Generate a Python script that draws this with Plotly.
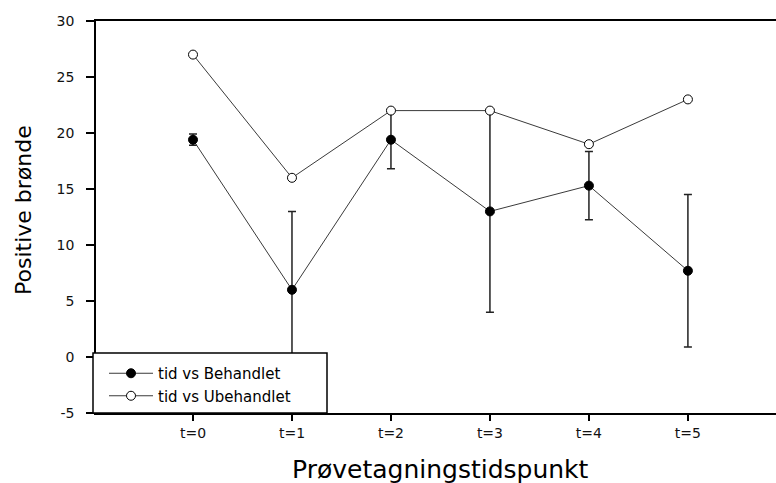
import plotly.graph_objects as go

categories = ["t=0", "t=1", "t=2", "t=3", "t=4", "t=5"]
x_pos = [0, 1, 2, 3, 4, 5]
behandlet = [19.4, 6.0, 19.4, 13.0, 15.3, 7.7]
behandlet_err = [0.5, 7.0, 2.6, 9.0, 3.05, 6.8]
ubehandlet = [27, 16, 22, 22, 19, 23]
y_ticks = [-5, 0, 5, 10, 15, 20, 25, 30]
y_ticktext = ["-5", "0", "5", "10", "15", "20", "25", "30"]

FONT = "DejaVu Sans"
W, H = 776, 483
ML, MR, MT, MB = 96, 0, 21, 70
PW, PH = W - ML - MR, H - MT - MB

def px_x(p):
    return (p - ML) / PW

def px_y(p):
    return (H - MB - p) / PH

fig = go.Figure()
fig.add_trace(go.Scatter(
    x=x_pos, y=behandlet, mode="lines+markers", name="tid vs Behandlet",
    line=dict(color="#3a3a3a", width=1),
    marker=dict(symbol="circle", size=9, color="black", line=dict(color="black", width=1)),
    error_y=dict(type="data", array=behandlet_err, visible=True, color="#222222",
                 thickness=1.5, width=4),
))
fig.add_trace(go.Scatter(
    x=x_pos, y=ubehandlet, mode="lines+markers", name="tid vs Ubehandlet",
    line=dict(color="#3a3a3a", width=1),
    marker=dict(symbol="circle", size=9, color="white", line=dict(color="black", width=1)),
))

fig.update_layout(
    width=W, height=H,
    margin=dict(l=ML, r=MR, t=MT, b=MB, pad=0),
    paper_bgcolor="white", plot_bgcolor="white",
    font=dict(family=FONT, color="black", size=14),
    showlegend=True,
    legend=dict(
        x=px_x(104), y=px_y(357), xanchor="left", yanchor="top",
        bgcolor="rgba(0,0,0,0)", borderwidth=0,
        font=dict(family=FONT, size=15, color="black"),
        tracegroupgap=0, itemwidth=44,
    ),
    shapes=[
        dict(type="rect", xref="paper", yref="paper", layer="above",
             x0=px_x(93), x1=px_x(327), y0=px_y(413), y1=px_y(353),
             fillcolor="white", line=dict(color="black", width=1.5)),
    ],
    xaxis=dict(
        range=[-0.98, 5.89], tickmode="array", tickvals=x_pos, ticktext=categories,
        showgrid=False, zeroline=False, showline=True, linecolor="black", linewidth=1.5,
        mirror=True, ticks="outside", ticklen=6, tickwidth=1.5, tickcolor="black",
        tickfont=dict(family=FONT, size=14, color="#111111"),
    ),
    yaxis=dict(
        range=[-5, 30], tickmode="array", tickvals=y_ticks, ticktext=y_ticktext,
        showgrid=False, zeroline=False, showline=True, linecolor="black", linewidth=1.5,
        ticks="outside", ticklen=8, tickwidth=1.5, tickcolor="black",
        tickfont=dict(family=FONT, size=14, color="#111111"),
        ticklabelstandoff=9,
    ),
    annotations=[
        dict(text="Positive brønde", xref="paper", yref="paper", x=px_x(24), y=px_y(210),
             xanchor="center", yanchor="middle", textangle=-90, showarrow=False,
             font=dict(family=FONT, size=22, color="black")),
        dict(text="Prøvetagningstidspunkt", xref="paper", yref="paper", x=px_x(440), y=px_y(469),
             xanchor="center", yanchor="middle", showarrow=False,
             font=dict(family=FONT, size=25, color="black")),
    ],
)

fig.write_html("out.html")
